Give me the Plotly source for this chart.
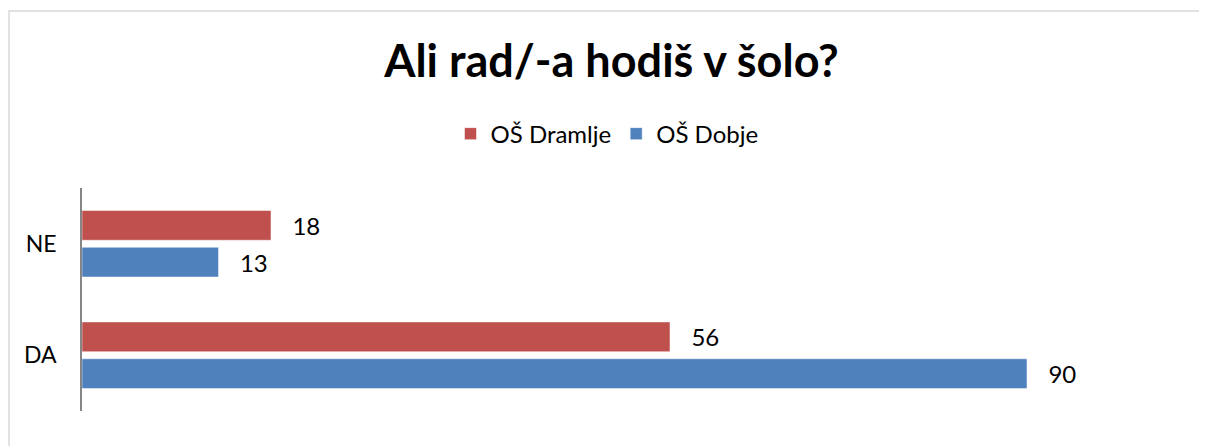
"""Horizontal grouped bar chart: Ali rad/-a hodiš v šolo?"""

import plotly.graph_objects as go

categories = ["DA", "NE"]
dramlje = [56, 18]
dobje = [90, 13]

RED = "#C0504D"
BLUE = "#4F81BD"
FONT = "Lato, 'Open Sans', sans-serif"
PAD = "\u00a0\u00a0\u00a0"  # push value labels away from the bar ends

fig = go.Figure()

# Dobje first so that it sits below Dramlje inside each group
fig.add_trace(go.Bar(
    y=categories, x=dobje, name="OŠ Dobje", orientation="h",
    marker=dict(color=BLUE),
    texttemplate=PAD + "%{x}", textposition="outside",
    textfont=dict(size=24, color="#000000"),
    cliponaxis=False,
))
fig.add_trace(go.Bar(
    y=categories, x=dramlje, name="OŠ Dramlje", orientation="h",
    marker=dict(color=RED),
    texttemplate=PAD + "%{x}", textposition="outside",
    textfont=dict(size=24, color="#000000"),
    cliponaxis=False,
))

fig.update_xaxes(range=[0, 100], visible=False, showgrid=False, zeroline=False)
fig.update_yaxes(
    showline=True, linecolor="#868686", linewidth=1.5,
    showgrid=False, zeroline=False, ticks="",
    ticklabelstandoff=19,
    tickfont=dict(size=23, color="#000000"),
)

# light frame around the chart area
fig.add_shape(
    type="rect", xref="paper", yref="paper",
    x0=-0.0695, x1=1.2, y0=-0.5, y1=1.794,
    line=dict(color="#D9D9D9", width=1.5), layer="below",
)

fig.update_layout(
    width=1207, height=446,
    template="plotly_white",
    font=dict(family=FONT, color="#000000"),
    title=dict(
        text="<b>Ali rad/-a hodiš v šolo?</b>",
        x=0.5, xanchor="center", y=0.881, yanchor="middle",
        font=dict(size=45, family=FONT, color="#000000"),
    ),
    legend=dict(
        orientation="h", traceorder="reversed",
        x=0.5, xanchor="center", y=1.242, yanchor="middle",
        font=dict(size=24), itemwidth=30,
    ),
    barmode="group", bargap=0.34, bargroupgap=0.19,
    margin=dict(l=74, r=83, t=180, b=43),
    plot_bgcolor="white", paper_bgcolor="white",
)

fig.write_html("out.html")
